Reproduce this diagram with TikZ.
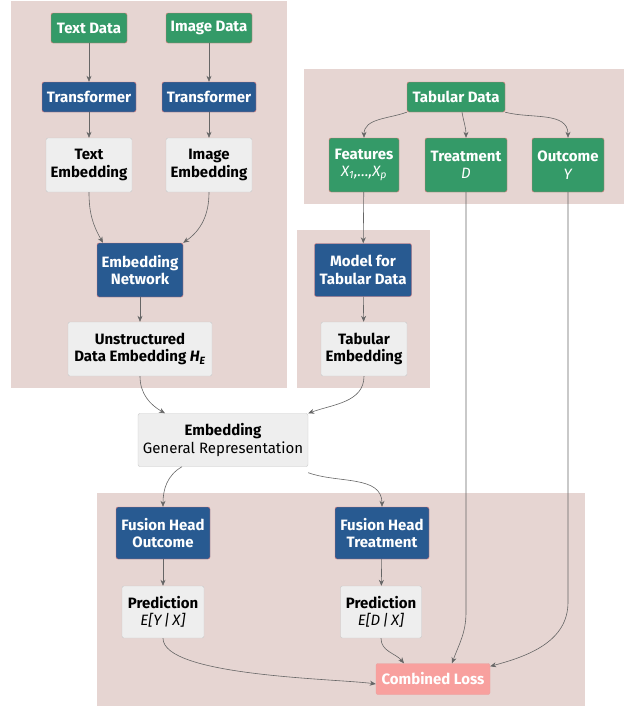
\documentclass[tikz,border=0pt]{standalone}
\usepackage{fontspec}
\setmainfont{Fira Sans}
\usetikzlibrary{arrows.meta}

\definecolor{grpbg}{HTML}{E6D5D2}
\definecolor{dgreen}{HTML}{349A68}
\definecolor{dblue}{HTML}{285A91}
\definecolor{lgray}{HTML}{EEEEEE}
\definecolor{lborder}{HTML}{C8C8C8}
\definecolor{redline}{HTML}{E07878}
\definecolor{lossfill}{HTML}{F8A09E}
\definecolor{arrgray}{HTML}{666666}

\begin{document}
\begin{tikzpicture}[x=1pt,y=-1pt]
    % Styles for boxes and lines
    \tikzset{
      base/.style={rectangle, rounded corners=2pt, align=center, inner sep=1pt, font=\fontsize{15}{17.5}\selectfont},
      databox/.style={base, draw=redline, fill=dgreen, text=white, font=\fontsize{15}{17.5}\selectfont\bfseries},
      netbox/.style={base, draw=redline, fill=dblue, text=white, font=\fontsize{15}{17.5}\selectfont\bfseries},
      embbox/.style={base, draw=lborder, fill=lgray, text=black},
      lossbox/.style={base, draw=redline!70, fill=lossfill, text=white, font=\fontsize{15}{17.5}\selectfont\bfseries},
      arrow/.style={draw=arrgray, semithick, -{Stealth[length=6pt,width=5pt]}}
    }
    \useasboundingbox (0,0) rectangle (627,707);

    % Group backgrounds
    \fill[grpbg] (11,1) rectangle (287,388);
    \fill[grpbg] (304,69) rectangle (624,204);
    \fill[grpbg] (297,230) rectangle (430,388);
    \fill[grpbg] (97,493) rectangle (585,706);

    % Nodes with explicit coordinates
    \node[databox, minimum width=76, minimum height=30] (textdata) at (89,28) {Text Data};
    \node[databox, minimum width=86, minimum height=30] (imgdata) at (209,28) {Image Data};
    \node[netbox, minimum width=94, minimum height=30] (trfA) at (89,97) {Transformer};
    \node[netbox, minimum width=94, minimum height=30] (trfB) at (209,97) {Transformer};
    \node[embbox, minimum width=86, minimum height=54] (textemb) at (89,165) {\textbf{Text}\\\textbf{Embedding}};
    \node[embbox, minimum width=86, minimum height=54] (imgemb) at (209,165) {\textbf{Image}\\\textbf{Embedding}};
    \node[netbox, minimum width=86, minimum height=54] (embnet) at (140,270) {Embedding\\Network};
    \node[embbox, minimum width=144, minimum height=54] (unstr) at (140,349) {\textbf{Unstructured}\\\textbf{Data Embedding \textit{H\textsubscript{E}}}};

    \node[databox, minimum width=98, minimum height=30] (tabdata) at (456,97) {Tabular Data};
    \node[databox, minimum width=70, minimum height=54] (feat) at (364,165) {Features\\\normalfont\textit{X\textsubscript{1},\dots,X\textsubscript{p}}};
    \node[databox, minimum width=82, minimum height=54] (treat) at (466,165) {Treatment\\\normalfont\textit{D}};
    \node[databox, minimum width=72, minimum height=54] (outc) at (568,165) {Outcome\\\normalfont\textit{Y}};
    \node[netbox, minimum width=97, minimum height=53] (tabmodel) at (363,270) {Model for\\Tabular Data};
    \node[embbox, minimum width=86, minimum height=54] (tabemb) at (364,349) {\textbf{Tabular}\\\textbf{Embedding}};

    \node[embbox, minimum width=170, minimum height=53] (general) at (223,440) {\textbf{Embedding}\\General Representation};

    \node[netbox, minimum width=94, minimum height=52] (headY) at (163,533) {Fusion Head\\Outcome};
    \node[netbox, minimum width=94, minimum height=52] (headD) at (382,533) {Fusion Head\\Treatment};
    \node[embbox, minimum width=82, minimum height=52] (predY) at (163,612) {\textbf{Prediction}\\\textit{E[Y\,|\,X]}};
    \node[embbox, minimum width=81, minimum height=52] (predD) at (381,612) {\textbf{Prediction}\\\textit{E[D\,|\,X]}};
    \node[lossbox, minimum width=114, minimum height=31] (loss) at (433,679) {Combined Loss};

    % Arrows
    \draw[arrow] (textdata) -- (trfA);
    \draw[arrow] (imgdata) -- (trfB);
    \draw[arrow] (trfA) -- (textemb);
    \draw[arrow] (trfB) -- (imgemb);
    \draw[arrow] (textemb.south) to[out=-90, in=120] ([xshift=-37]embnet.north);
    \draw[arrow] (imgemb.south) to[out=-90, in=35] (embnet.north east);
    \draw[arrow] (embnet) -- (unstr);
    \draw[arrow] (unstr.south) to[out=-90, in=150] ([xshift=-58]general.north);
    \draw[arrow] (tabemb.south) to[out=-90, in=20] (general.north east);

    \draw[arrow] (tabdata.south west) to[out=200, in=90] (feat.north);
    \draw[arrow] ([xshift=6]tabdata.south) to[out=-80, in=90] (treat.north);
    \draw[arrow] (tabdata.south east) to[out=-15, in=90] (outc.north);
    \draw[arrow] (feat) -- (tabmodel);
    \draw[arrow] (tabmodel) -- (tabemb);

    \draw[arrow] ([xshift=-41]general.south) to[out=210, in=90] (headY.north);
    \draw[arrow] ([yshift=-6]general.south east) to[out=-20, in=90] (headD.north);
    \draw[arrow] (headY) -- (predY);
    \draw[arrow] (headD) -- (predD);

    \draw[arrow] (predY.south) to[out=-90, in=172, looseness=0.45] ([yshift=-5]loss.west);
    \draw[arrow] (predD.south) to[out=-90, in=130] ([xshift=-29]loss.north);
    \draw[arrow] (treat.south) -- ++(0,420) to[out=-90, in=70] ([xshift=19]loss.north);
    \draw[arrow] (outc.south) -- ++(0,410) to[out=-90, in=15] ([yshift=-3]loss.north east);
\end{tikzpicture}
\end{document}
